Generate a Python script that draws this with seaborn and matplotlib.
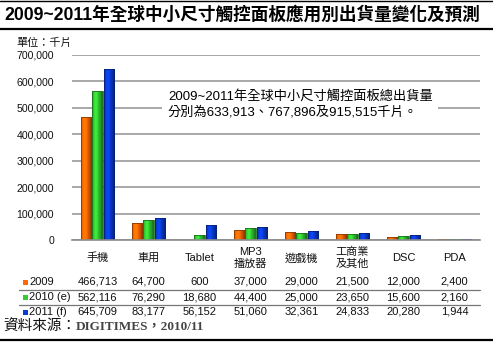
import numpy as np
import pandas as pd
import matplotlib
matplotlib.use("Agg")
import matplotlib.pyplot as plt
import matplotlib.colors as mcolors
from matplotlib.lines import Line2D
from matplotlib.patches import Rectangle
from matplotlib.transforms import blended_transform_factory
import seaborn as sns

# ---- data (千片) ----
categories = ["手機", "車用", "Tablet", "MP3\n播放器", "遊戲機", "工商業\n及其他", "DSC", "PDA"]
years = ["2009", "2010 (e)", "2011 (f)"]
s2009 = [466713, 64700, 600, 37000, 29000, 21500, 12000, 2400]
s2010 = [562116, 76290, 18680, 44400, 25000, 23650, 15600, 2160]
s2011 = [645709, 83177, 56152, 51060, 32361, 24833, 20280, 1944]
yticks = [0, 100000, 200000, 300000, 400000, 500000, 600000, 700000]
colors = ["#FF6A00", "#33CC33", "#0A3CD6"]

title = "2009~2011年全球中小尺寸觸控面板應用別出貨量變化及預測"
unit_label = "單位：千片"
note = "2009~2011年全球中小尺寸觸控面板總出貨量\n分別為633,913、767,896及915,515千片。"
source_prefix = "資料來源："
source_name = "DIGITIMES，2010/11"

series = [s2009, s2010, s2011]
df = pd.DataFrame({
    "類別": categories * 3,
    "年度": [y for y in years for _ in categories],
    "出貨量": [v for s in series for v in s],
})

sns.set_theme(style="white")
plt.rcParams["font.family"] = ["Liberation Sans", "Noto Sans CJK TC"]

W, H = 493, 344
fig = plt.figure(figsize=(W / 100, H / 100), dpi=100)
fig.patch.set_facecolor("white")


def fx(px):
    return px / W


def fy(py):
    return 1 - py / H


ax = fig.add_axes([fx(72), fy(240), 408 / W, 185 / H])
sns.barplot(data=df, x="類別", y="出貨量", hue="年度", order=categories,
            hue_order=years, palette=colors, saturation=1, width=0.66,
            gap=0.08, legend=False, ax=ax)

# shaded, slightly rounded-looking bars
for bar in list(ax.patches):
    fc = np.array(mcolors.to_rgb(bar.get_facecolor()))
    x0, w, h = bar.get_x(), bar.get_width(), bar.get_height()
    if h <= 0:
        continue
    prof = np.linspace(0, 1, 32)
    shade = 0.72 + 0.45 * np.exp(-((prof - 0.35) / 0.28) ** 2)
    shade[-5:] *= 0.8
    img = np.clip(fc[None, :] * shade[:, None], 0, 1)[None, :, :]
    im = ax.imshow(img, extent=[x0, x0 + w, 0, h], aspect="auto",
                   interpolation="bilinear", zorder=2)
    im.set_clip_path(bar)
    bar.set_edgecolor(tuple(fc * 0.55))
    bar.set_linewidth(0.6)
    bar.set_zorder(2.5)
    bar.set_facecolor("none")

ax.set_xlim(-0.5, len(categories) - 0.5)
ax.set_ylim(0, 700000)
ax.set_yticks(yticks)
ax.set_yticklabels([f"{v:,}" for v in yticks], fontsize=7.6, color="#111111")
ax.tick_params(axis="y", length=0, pad=13)
ax.set_xticks([])
ax.set_xlabel("")
ax.set_ylabel("")
ax.yaxis.grid(True, color="#A8A8A8", linewidth=1.4)
ax.set_axisbelow(True)
for side in ["left", "right", "top"]:
    ax.spines[side].set_visible(False)
ax.spines["bottom"].set_color("#8C8C8C")
ax.spines["bottom"].set_linewidth(1.2)

# category labels and data table under the axis
trans = blended_transform_factory(ax.transData, fig.transFigure)
for i, cat in enumerate(categories):
    ax.text(i, fy(258), cat, transform=trans, ha="center", va="center",
            fontsize=8, linespacing=1.15, color="#111111")

row_y = [282, 297, 312]
for r, (yr, vals, col) in enumerate(zip(years, series, colors)):
    fig.text(fx(29), fy(row_y[r]), yr, ha="left", va="center", fontsize=8,
             color="#111111")
    fig.patches.append(Rectangle((fx(23), fy(row_y[r] + 2.5)), 5 / W, 5 / H,
                                 transform=fig.transFigure, facecolor=col,
                                 edgecolor="none"))
    for i, v in enumerate(vals):
        ax.text(i, fy(row_y[r]), f"{v:,}", transform=trans, ha="center",
                va="center", fontsize=8, color="#111111")

for ly in [289.5, 304.5]:
    fig.add_artist(Line2D([fx(19), fx(480)], [fy(ly), fy(ly)],
                          color="#777777", linewidth=0.9))

# title, unit, note
fig.text(fx(4), fy(15), title, ha="left", va="center", fontsize=12.7,
         fontweight="bold", color="black")
fig.add_artist(Line2D([0, 1], [fy(0.6), fy(0.6)], color="black", linewidth=1))
fig.add_artist(Line2D([0, 1], [fy(29), fy(29)], color="black", linewidth=1.6))
fig.add_artist(Line2D([0, 1], [fy(340), fy(340)], color="black", linewidth=1.6))

fig.text(fx(16), fy(43), unit_label, ha="left", va="center", fontsize=8,
         color="#111111")

ax.text(fx(168), fy(104), note, transform=fig.transFigure, ha="left",
        va="center", fontsize=9.5, linespacing=1.25, color="black",
        bbox=dict(facecolor="white", edgecolor="none", pad=4), zorder=5)

src = fig.text(fx(3), fy(327), source_prefix, ha="left", va="center",
               fontsize=10.5, color="#111111")
ax.annotate(source_name, xy=(1, 0.5), xycoords=src, ha="left", va="center",
            fontsize=9.5, fontweight="bold", color="#444444",
            family=["Liberation Serif", "Noto Sans CJK TC"],
            annotation_clip=False)

fig.savefig("out.png", dpi=100)
